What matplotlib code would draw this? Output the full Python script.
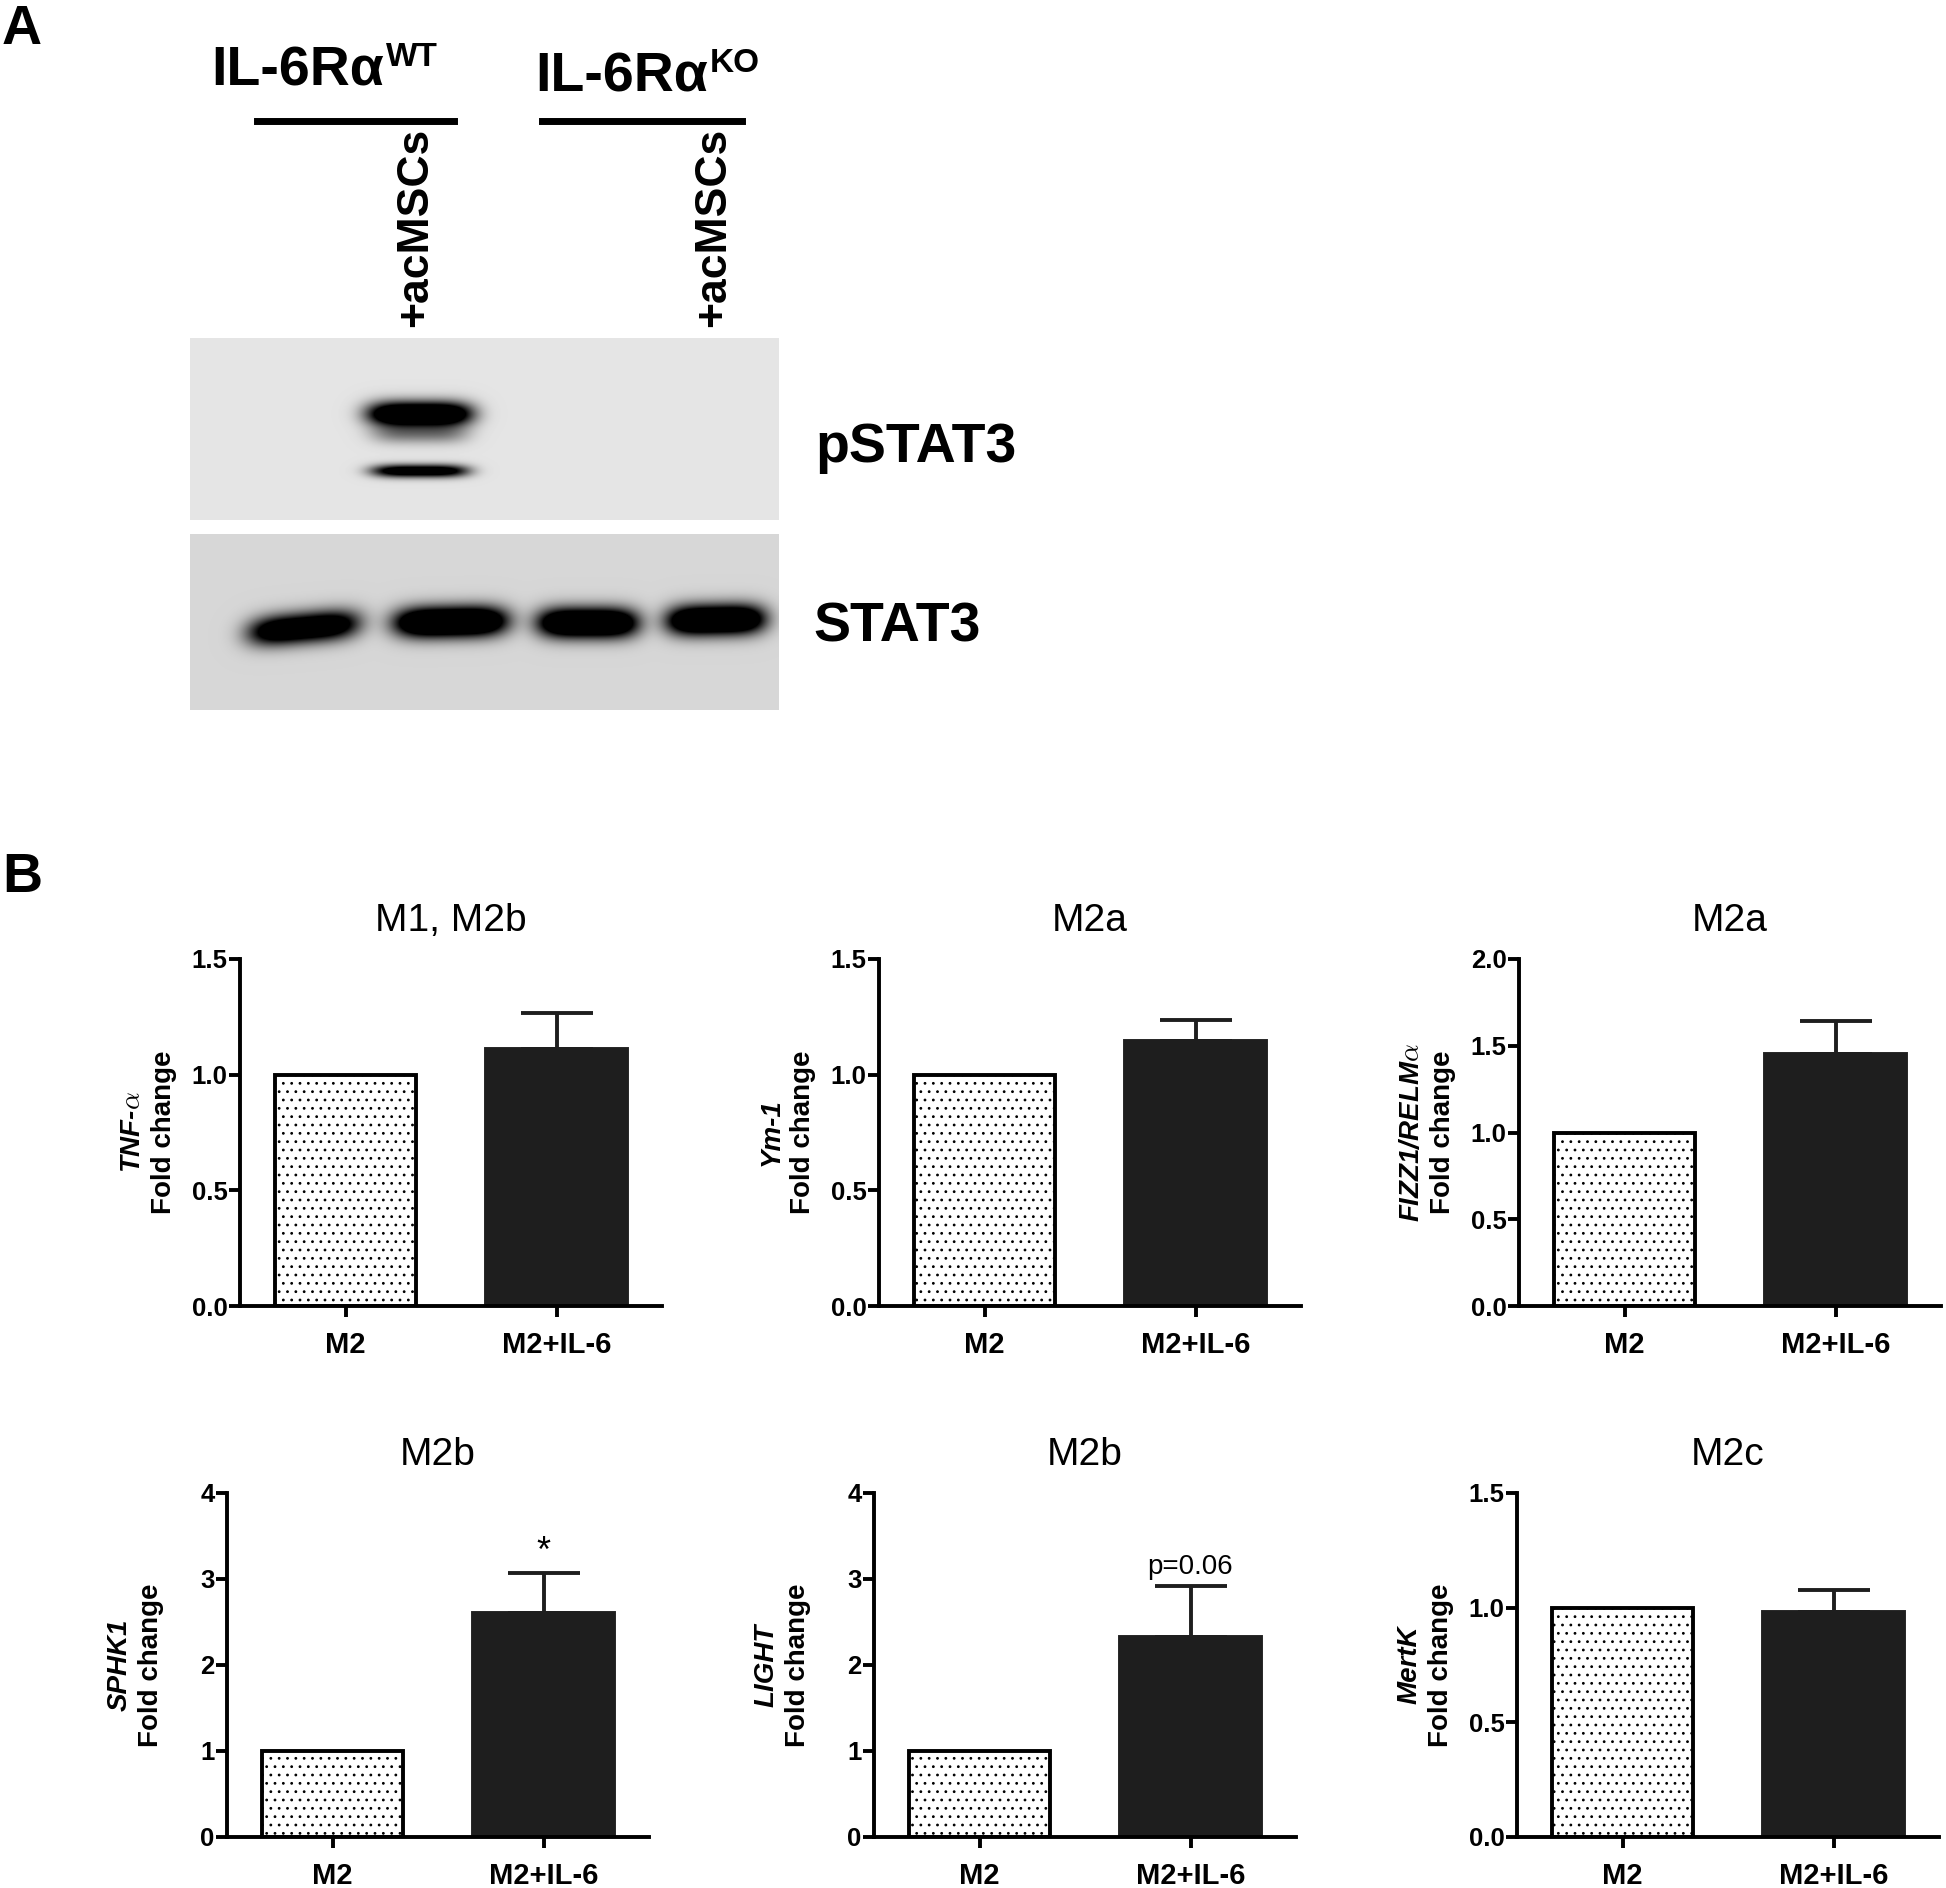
import numpy as np
import matplotlib
matplotlib.use('Agg')
import matplotlib.pyplot as plt
from matplotlib.transforms import ScaledTranslation
from matplotlib.lines import Line2D
from matplotlib.text import Annotation

plt.rcParams['font.family'] = ['Liberation Sans', 'DejaVu Sans']
plt.rcParams['hatch.linewidth'] = 0.8

W, H, DPI = 1946, 1888, 100

# ---------------- data ----------------
# Panel A: western blot band intensities per lane
lanes = ['IL-6Rα WT', 'IL-6Rα WT +acMSCs', 'IL-6Rα KO', 'IL-6Rα KO +acMSCs']
pstat3_main = [0.0, 1.8, 0.0, 0.0]
pstat3_faint = [0.0, 0.45, 0.0, 0.0]
pstat3_low = [0.0, 1.4, 0.0, 0.0]
stat3 = [1.6, 2.0, 1.9, 1.9]

# Panel B: qPCR fold change
groups = ['M2', 'M2+IL-6']
titles = ['M1, M2b', 'M2a', 'M2a', 'M2b', 'M2b', 'M2c']
genes = ['TNF-$\\alpha$', 'Ym-1', 'FIZZ1/RELM$\\alpha$', 'SPHK1', 'LIGHT', 'MertK']
m2_mean = [1.0, 1.0, 1.0, 1.0, 1.0, 1.0]
il6_mean = [1.11, 1.145, 1.455, 2.60, 2.33, 0.98]
il6_sem = [0.155, 0.092, 0.19, 0.47, 0.585, 0.097]
y_max = [1.5, 1.5, 2.0, 4, 4, 1.5]
y_step = [0.5, 0.5, 0.5, 1, 1, 0.5]
marks = ['', '', '', '*', 'p=0.06', '']

# ---------------- figure ----------------
fig = plt.figure(figsize=(W / DPI, H / DPI), dpi=DPI)


def ftext(x, y, s, **kw):
    return fig.text(x / W, 1 - y / H, s, **kw)


# ---- Panel A ----
ftext(2, 4, 'A', fontsize=40, fontweight='bold', ha='left', va='top')

for label, sup, cx, base in [('IL-6Rα', 'WT', 298, 85), ('IL-6Rα', 'KO', 622, 91)]:
    t = ftext(cx, base, label, fontsize=40, fontweight='bold', ha='center', va='baseline')
    ann = Annotation(sup, xy=(1, 1), xycoords=t, xytext=(1, 2), textcoords='offset points',
                     ha='left', va='top', fontsize=24, fontweight='bold')
    fig.add_artist(ann)

for x0, x1 in [(257, 454), (542, 742)]:
    fig.add_artist(Line2D([x0 / W, x1 / W], [1 - 121 / H] * 2, lw=5, color='black',
                          transform=fig.transFigure))

for cx in [416, 714]:
    ftext(cx, 128, '+acMSCs', rotation=90, ha='center', va='top', fontsize=32, fontweight='bold')

ftext(815, 462, 'pSTAT3', fontsize=40, fontweight='bold', ha='left', va='baseline')
ftext(813, 642, 'STAT3', fontsize=40, fontweight='bold', ha='left', va='baseline')


def blot_panel(x0, y0, x1, y1, bg, bands):
    ax = fig.add_axes([x0 / W, 1 - y1 / H, (x1 - x0) / W, (y1 - y0) / H])
    xs = np.arange(x0, x1) + 0.5
    ys = np.arange(y0, y1) + 0.5
    X, Y = np.meshgrid(xs, ys)
    D = np.zeros_like(X)
    for xc, hw, yc, sy, tilt, amp in bands:
        if amp <= 0:
            continue
        yy = yc + tilt * (X - xc)
        D += amp * np.exp(-np.abs((X - xc) / hw) ** 4) * np.exp(-0.5 * ((Y - yy) / sy) ** 2)
    img = bg * (1 - np.clip(D, 0, 1))
    ax.imshow(img, cmap='gray', vmin=0, vmax=1, extent=(x0, x1, y1, y0),
              aspect='auto', interpolation='bilinear')
    ax.set_axis_off()


p_x = [304, 420, 588, 716]
s_x = [304, 451, 588, 716]
s_hw = [55, 56, 50, 49]
s_y = [628, 622, 623, 620]
s_tilt = [-0.09, -0.02, 0.0, -0.02]

bands_p = []
for i in range(len(lanes)):
    bands_p.append((p_x[i], 52, 414, 8.5, 0.0, pstat3_main[i]))
    bands_p.append((p_x[i], 48, 434, 7, 0.0, pstat3_faint[i]))
    bands_p.append((p_x[i], 48, 471, 4.5, 0.0, pstat3_low[i]))
blot_panel(190, 338, 779, 520, 0.895, bands_p)

bands_s = []
for i in range(len(lanes)):
    bands_s.append((s_x[i], s_hw[i], s_y[i], 10.5, s_tilt[i], stat3[i]))
blot_panel(190, 534, 779, 710, 0.84, bands_s)

# ---- Panel B ----
ftext(2, 852, 'B', fontsize=40, fontweight='bold', ha='left', va='top')

ax_px = [(240, 959, 1306), (879, 959, 1306), (1519, 959, 1306),
         (227, 1493, 1837), (874, 1493, 1837), (1517, 1493, 1837)]
AX_W = 422
LW = 2.8

for i in range(6):
    l, t, b = ax_px[i]
    ax = fig.add_axes([l / W, 1 - b / H, AX_W / W, (b - t) / H])
    x = np.arange(len(groups))
    ax.bar(x[0], m2_mean[i], width=0.67, color='white', edgecolor='black',
           linewidth=LW, hatch='..', zorder=2)
    ax.bar(x[1], il6_mean[i], width=0.67, color='#1e1e1e', edgecolor='#1e1e1e',
           linewidth=LW, zorder=2)
    ax.errorbar(x[1], il6_mean[i], yerr=[[0], [il6_sem[i]]], fmt='none', ecolor='#1e1e1e',
                elinewidth=LW, capsize=26, capthick=LW, zorder=1)
    ax.set_xlim(-0.5, 1.5)
    ax.set_ylim(0, y_max[i])
    ticks = np.arange(0, y_max[i] + y_step[i] / 2, y_step[i])
    if y_step[i] < 1:
        tlabels = ['%.1f' % v for v in ticks]
    else:
        tlabels = ['%d' % v for v in ticks]
    ax.set_yticks(ticks, tlabels, fontsize=18.5, fontweight='bold')
    ax.set_xticks(x, groups, fontsize=21, fontweight='bold')
    for s in ['top', 'right']:
        ax.spines[s].set_visible(False)
    for s in ['left', 'bottom']:
        ax.spines[s].set_linewidth(LW)
    ax.tick_params(axis='both', direction='out', length=8, width=LW)
    ax.tick_params(axis='y', pad=1)
    ax.tick_params(axis='x', pad=10)
    ax.set_title(titles[i], fontsize=28, pad=20)

    ax.text(0, 0.5, 'Fold change', transform=ax.transAxes + ScaledTranslation(-76 / DPI, 0, fig.dpi_scale_trans),
            rotation=90, ha='center', va='center', fontsize=20, fontweight='bold')
    g = ax.text(0, 0.5, genes[i], transform=ax.transAxes + ScaledTranslation(-107 / DPI, 0, fig.dpi_scale_trans),
                rotation=90, ha='center', va='center', fontsize=20, fontweight='bold', fontstyle='italic')
    g.set_math_fontfamily('cm')

    if marks[i]:
        top = il6_mean[i] + il6_sem[i]
        if marks[i] == '*':
            ax.annotate(marks[i], xy=(x[1], top), xytext=(0, 8), textcoords='offset points',
                        ha='center', va='baseline', fontsize=26)
        else:
            ax.annotate(marks[i], xy=(x[1], top), xytext=(0, 9), textcoords='offset points',
                        ha='center', va='baseline', fontsize=20)

fig.savefig('out.png', dpi=DPI)
